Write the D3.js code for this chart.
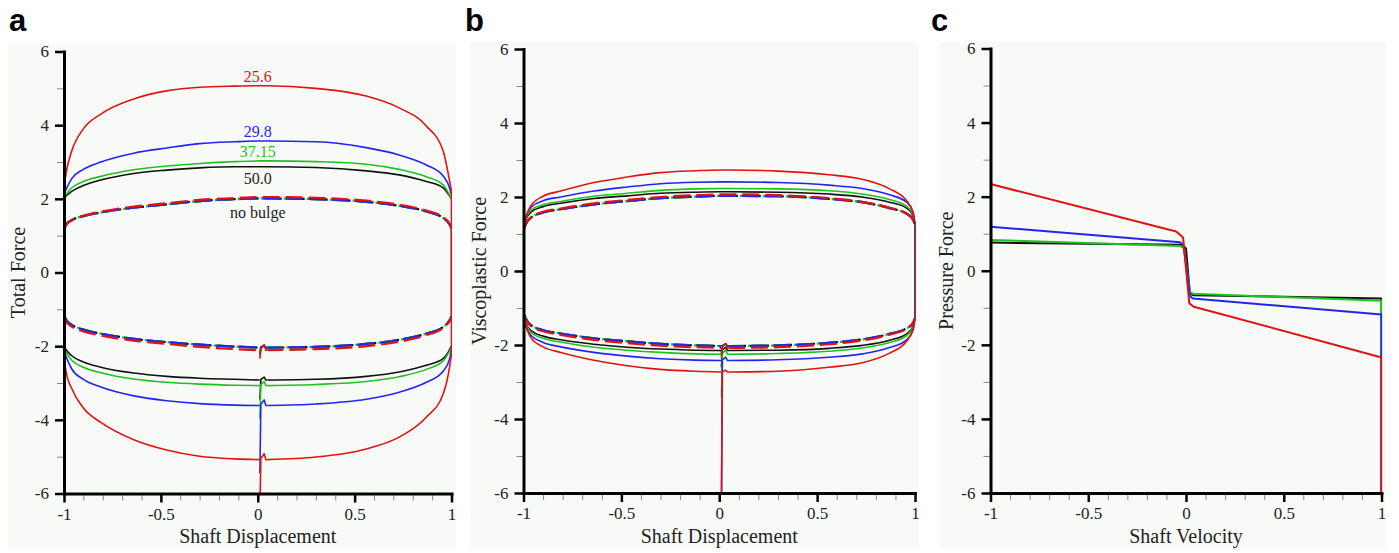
<!DOCTYPE html>
<html>
<head>
<meta charset="utf-8">
<script src="https://cdn.jsdelivr.net/npm/d3@7/dist/d3.min.js"></script>
<style>
  html, body { margin: 0; padding: 0; background: #ffffff; }
  svg { display: block; }
  .tick-label { font-family: "Liberation Serif", "DejaVu Serif", serif; font-size: 17px; fill: #222; }
  .axis-title { font-family: "Liberation Serif", "DejaVu Serif", serif; font-size: 20px; fill: #222; }
  .curve-label { font-family: "Liberation Serif", "DejaVu Serif", serif; font-size: 16px; }
  .panel-letter { font-family: "Liberation Sans", Arial, sans-serif; font-size: 31px; font-weight: bold; fill: #000; }
</style>
</head>
<body>
<svg id="chart" width="1399" height="553"></svg>
<script>
// ---------- series definitions ----------
const seriesNames = ["50.0", "37.15", "29.8", "25.6"];          // bulge ratio labels
const seriesColors = ["#111111", "#1fc21f", "#2424f0", "#e01212"];

// displacement grid shared by the loops in panels a and b
const xGrid = [-1, -0.99, -0.96, -0.9, -0.81, -0.64, -0.47, -0.3, -0.12, 0.01, 0.05, 0.3, 0.56, 0.73, 0.87, 0.957, 0.99, 1];

// ----- Panel a: total force, solid = with bulge, dashed = no bulge -----
const totalTop = [
  [2.0, 2.07, 2.2, 2.36, 2.51, 2.69, 2.78, 2.84, 2.87, 2.87, 2.87, 2.85, 2.76, 2.65, 2.47, 2.30, 2.08, 2.0],
  [2.03, 2.11, 2.3, 2.47, 2.61, 2.79, 2.89, 2.96, 3.01, 3.03, 3.03, 3.01, 2.94, 2.80, 2.60, 2.38, 2.10, 2.0],
  [2.13, 2.25, 2.55, 2.8, 3.0, 3.24, 3.38, 3.50, 3.55, 3.57, 3.57, 3.55, 3.39, 3.19, 2.92, 2.62, 2.30, 2.1],
  [2.3, 2.68, 3.3, 3.9, 4.3, 4.71, 4.93, 5.03, 5.06, 5.07, 5.07, 5.0, 4.79, 4.47, 3.98, 3.30, 2.49, 2.2]
];
const totalBottom = [
  [-2.0, -2.09, -2.26, -2.43, -2.57, -2.73, -2.82, -2.87, -2.9, -2.92, -2.92, -2.9, -2.82, -2.7, -2.52, -2.34, -2.1, -2.0],
  [-2.05, -2.16, -2.38, -2.57, -2.72, -2.89, -2.98, -3.03, -3.06, -3.07, -3.07, -3.04, -2.96, -2.83, -2.63, -2.4, -2.14, -2.05],
  [-2.1, -2.27, -2.62, -2.9, -3.11, -3.35, -3.48, -3.56, -3.6, -3.61, -3.61, -3.57, -3.44, -3.25, -2.98, -2.68, -2.35, -2.1],
  [-2.3, -2.68, -3.15, -3.68, -4.07, -4.54, -4.82, -4.99, -5.06, -5.08, -5.08, -5.01, -4.79, -4.47, -3.93, -3.30, -2.57, -2.2]
];
const totalStart = [-3.45, -3.97, -5.45, -6.5];   // initial force at the start of the stroke
const totalSpike = [-2.84, -2.96, -3.46, -4.92];  // overshoot right after start

const noBulgeTotalTop = [
  [1.18, 1.30, 1.42, 1.53, 1.63, 1.76, 1.85, 1.94, 1.99, 2.01, 2.01, 1.99, 1.92, 1.81, 1.66, 1.48, 1.31, 1.2],
  [1.18, 1.30, 1.42, 1.53, 1.63, 1.76, 1.85, 1.94, 1.99, 2.01, 2.01, 1.99, 1.92, 1.81, 1.66, 1.48, 1.31, 1.2],
  [1.18, 1.30, 1.42, 1.53, 1.63, 1.76, 1.85, 1.94, 1.99, 2.01, 2.01, 1.99, 1.92, 1.81, 1.66, 1.48, 1.31, 1.2],
  [1.15, 1.28, 1.42, 1.54, 1.65, 1.79, 1.88, 1.97, 2.02, 2.05, 2.05, 2.03, 1.95, 1.84, 1.68, 1.50, 1.32, 1.2]
];
const noBulgeTotalBottom = [
  [-1.15, -1.28, -1.42, -1.55, -1.66, -1.8, -1.89, -1.96, -2.01, -2.04, -2.04, -2.02, -1.94, -1.83, -1.66, -1.48, -1.3, -1.2],
  [-1.15, -1.28, -1.42, -1.55, -1.66, -1.8, -1.89, -1.96, -2.01, -2.04, -2.04, -2.02, -1.94, -1.83, -1.66, -1.48, -1.3, -1.2],
  [-1.15, -1.28, -1.42, -1.55, -1.66, -1.8, -1.89, -1.96, -2.01, -2.04, -2.04, -2.02, -1.94, -1.83, -1.66, -1.48, -1.3, -1.2],
  [-1.18, -1.32, -1.47, -1.6, -1.71, -1.85, -1.94, -2.02, -2.08, -2.11, -2.11, -2.08, -2.0, -1.88, -1.7, -1.5, -1.32, -1.22]
];
const noBulgeTotalStart = [-2.2, -2.2, -2.25, -2.34];
const noBulgeTotalSpike = [-1.98, -1.98, -1.98, -1.96];

// ----- Panel b: viscoplastic force -----
const viscoTop = [
  [1.25, 1.38, 1.6, 1.74, 1.83, 1.96, 2.03, 2.1, 2.13, 2.14, 2.14, 2.13, 2.08, 2.0, 1.86, 1.7, 1.5, 1.25],
  [1.25, 1.4, 1.65, 1.79, 1.88, 2.02, 2.1, 2.18, 2.22, 2.23, 2.23, 2.22, 2.17, 2.08, 1.93, 1.75, 1.52, 1.25],
  [1.3, 1.45, 1.73, 1.9, 2.0, 2.16, 2.27, 2.36, 2.40, 2.41, 2.41, 2.39, 2.32, 2.23, 2.06, 1.86, 1.6, 1.3],
  [1.1, 1.38, 1.78, 2.02, 2.16, 2.39, 2.54, 2.66, 2.71, 2.73, 2.73, 2.7, 2.6, 2.48, 2.22, 1.9, 1.56, 1.3]
];
const viscoBottom = [
  [-1.25, -1.4, -1.62, -1.76, -1.86, -1.98, -2.06, -2.11, -2.14, -2.15, -2.15, -2.14, -2.09, -2.01, -1.87, -1.7, -1.5, -1.28],
  [-1.28, -1.43, -1.67, -1.82, -1.92, -2.06, -2.14, -2.2, -2.24, -2.25, -2.25, -2.23, -2.17, -2.08, -1.93, -1.75, -1.52, -1.3],
  [-1.3, -1.48, -1.75, -1.93, -2.05, -2.2, -2.3, -2.37, -2.41, -2.42, -2.42, -2.4, -2.33, -2.24, -2.07, -1.86, -1.6, -1.32],
  [-1.2, -1.43, -1.82, -2.05, -2.2, -2.41, -2.56, -2.66, -2.71, -2.73, -2.73, -2.71, -2.6, -2.48, -2.22, -1.9, -1.56, -1.3]
];
const viscoStart = [-2.6, -3.4, -6.5, -6.5];
const viscoSpike = [-2.06, -2.14, -2.33, -2.68];

const noBulgeViscoTop = [
  [1.1, 1.25, 1.45, 1.58, 1.67, 1.8, 1.89, 1.97, 2.01, 2.03, 2.03, 2.02, 1.95, 1.86, 1.7, 1.55, 1.4, 1.25],
  [1.1, 1.25, 1.45, 1.58, 1.67, 1.8, 1.89, 1.97, 2.01, 2.03, 2.03, 2.02, 1.95, 1.86, 1.7, 1.55, 1.4, 1.25],
  [1.1, 1.25, 1.45, 1.58, 1.67, 1.8, 1.89, 1.97, 2.01, 2.03, 2.03, 2.02, 1.95, 1.86, 1.7, 1.55, 1.4, 1.25],
  [1.1, 1.25, 1.45, 1.6, 1.69, 1.83, 1.92, 2.0, 2.05, 2.07, 2.07, 2.05, 1.97, 1.87, 1.71, 1.55, 1.38, 1.22]
];
const noBulgeViscoBottom = [
  [-1.12, -1.27, -1.47, -1.6, -1.69, -1.82, -1.9, -1.97, -2.01, -2.03, -2.03, -2.01, -1.94, -1.85, -1.7, -1.55, -1.4, -1.28],
  [-1.12, -1.27, -1.47, -1.6, -1.69, -1.82, -1.9, -1.97, -2.01, -2.03, -2.03, -2.01, -1.94, -1.85, -1.7, -1.55, -1.4, -1.28],
  [-1.12, -1.27, -1.47, -1.6, -1.69, -1.82, -1.9, -1.97, -2.01, -2.03, -2.03, -2.01, -1.94, -1.85, -1.7, -1.55, -1.4, -1.28],
  [-1.15, -1.3, -1.5, -1.63, -1.73, -1.86, -1.95, -2.02, -2.06, -2.08, -2.08, -2.06, -1.98, -1.88, -1.72, -1.56, -1.4, -1.28]
];
const noBulgeViscoStart = [-2.2, -2.2, -2.25, -2.34];
const noBulgeViscoSpike = [-1.97, -1.97, -1.97, -1.96];

// ----- Panel c: pressure force against shaft velocity -----
const pressureVelocity = [
  [-1, -0.02, 0.0, 0.02, 0.04, 1, 1],
  [-1, -0.03, -0.01, 0.02, 0.035, 1, 1],
  [-1, -0.03, -0.012, 0.02, 0.035, 1, 1],
  [-1, -0.05, -0.015, 0.017, 0.04, 1, 1]
];
const pressureForce = [
  [0.76, 0.70, 0.6, -0.62, -0.66, -0.75, -6.5],
  [0.83, 0.67, 0.6, -0.58, -0.62, -0.81, -6.5],
  [1.19, 0.77, 0.68, -0.68, -0.75, -1.18, -6.5],
  [2.34, 1.06, 0.9, -0.88, -0.97, -2.34, -6.5]
];

// axis ticks
const yMajorTicks = [-6, -4, -2, 0, 2, 4, 6];
const yMinorTicks = [-5, -3, -1, 1, 3, 5];
const xMajorTicks = [-1, -0.5, 0, 0.5, 1];
const xMinorTicks = [-0.9, -0.8, -0.7, -0.6, -0.4, -0.3, -0.2, -0.1, 0.1, 0.2, 0.3, 0.4, 0.6, 0.7, 0.8, 0.9];

// ---------- drawing ----------
const svg = d3.select("#chart");

const panels = [
  { letter: "a", lx: 9,   box: [8, 44, 456, 548],   x0: 64,    x1: 451.5, yTop: 51.5, yBot: 493.5, ytitle: "Total Force",        ytx: 19,  xtitle: "Shaft Displacement" },
  { letter: "b", lx: 465, box: [470, 42, 918, 548], x0: 523.5, x1: 915,   yTop: 49,   yBot: 493,   ytitle: "Viscoplastic Force", ytx: 480, xtitle: "Shaft Displacement" },
  { letter: "c", lx: 931, box: [940, 42, 1386, 548], x0: 990.5, x1: 1381.5, yTop: 48.5, yBot: 493, ytitle: "Pressure Force",    ytx: 947, xtitle: "Shaft Velocity" }
];

panels.forEach(p => {
  p.x = d3.scaleLinear().domain([-1, 1]).range([p.x0, p.x1]);
  p.y = d3.scaleLinear().domain([-6, 6]).range([p.yBot, p.yTop]);
  const g = svg.append("g");
  p.g = g;

  g.append("rect")
    .attr("x", p.box[0]).attr("y", p.box[1])
    .attr("width", p.box[2] - p.box[0]).attr("height", p.box[3] - p.box[1])
    .attr("fill", "#f8faf8");

  g.append("text").attr("class", "panel-letter")
    .attr("x", p.lx).attr("y", 31).text(p.letter);

  const clipId = "clip-" + p.letter;
  svg.append("clipPath").attr("id", clipId)
    .append("rect")
    .attr("x", p.x0).attr("y", p.yTop)
    .attr("width", p.x1 - p.x0 + 0.6).attr("height", p.yBot - p.yTop);
  p.plot = g.append("g").attr("clip-path", `url(#${clipId})`);
});

const smooth = d3.line().x(d => d[0]).y(d => d[1]).curve(d3.curveMonotoneX);
const straight = d3.line().x(d => d[0]).y(d => d[1]);

// one hysteresis loop: upper branch, lower branch, turning-point jumps, start transient
function drawLoop(p, top, bottom, start, spike, color, dashed, width, phase) {
  const X = p.x, Y = p.y;
  const iSplit = xGrid.indexOf(0.01);
  const topPts = xGrid.map((xv, k) => [X(xv), Y(top[k])]);
  const botLeft = xGrid.slice(0, iSplit + 1).map((xv, k) => [X(xv), Y(bottom[k])]);
  const botRight = xGrid.slice(iSplit + 1).map((xv, k) => [X(xv), Y(bottom[iSplit + 1 + k])]);
  const lvl = bottom[iSplit];
  const transient = [
    [X(0.011), Y(start)],
    [X(0.016), Y(lvl + (spike - lvl) * 0.2)],
    [X(0.033), Y(spike)],
    [X(0.042), Y(lvl)],
    [X(0.05), Y(bottom[iSplit + 1])]
  ];
  const jumps = [
    [[X(1), Y(bottom[bottom.length - 1])], [X(1), Y(top[top.length - 1])]],
    [[X(-1), Y(top[0])], [X(-1), Y(bottom[0])]]
  ];
  const style = sel => sel.attr("fill", "none").attr("stroke", color)
    .attr("stroke-width", width)
    .attr("stroke-dasharray", dashed ? dashed : null)
    .attr("stroke-dashoffset", dashed ? phase : null)
    .attr("stroke-linejoin", "round");
  p.plot.append("path").attr("d", smooth(topPts)).call(style);
  p.plot.append("path").attr("d", smooth(botLeft)).call(style);
  p.plot.append("path").attr("d", smooth(botRight)).call(style);
  p.plot.append("path").attr("d", straight(transient)).call(style)
    .attr("stroke-dasharray", null).attr("stroke-width", 1.6);
  jumps.forEach(j => p.plot.append("path").attr("d", straight(j)).call(style)
    .attr("stroke-dasharray", null).attr("stroke-width", 1.2));
}

// panel a and b loops: solid bulged cases first, then the dashed no-bulge cases
const dashPhase = [0, 4, 2, 1];
[[panels[0], noBulgeTotalTop, noBulgeTotalBottom, noBulgeTotalStart, noBulgeTotalSpike, totalTop, totalBottom, totalStart, totalSpike],
 [panels[1], noBulgeViscoTop, noBulgeViscoBottom, noBulgeViscoStart, noBulgeViscoSpike, viscoTop, viscoBottom, viscoStart, viscoSpike]]
.forEach(([p, nT, nB, nS, nP, sT, sB, sS, sP]) => {
  seriesNames.forEach((name, k) => {
    drawLoop(p, sT[k], sB[k], sS[k], sP[k], seriesColors[k], null, 1.6, 0);
  });
  seriesNames.forEach((name, k) => {
    drawLoop(p, nT[k], nB[k], nS[k], nP[k], seriesColors[k], "17,6", 2.2, dashPhase[k]);
  });
});

// panel c pressure curves
const pc = panels[2];
seriesNames.forEach((name, k) => {
  const pts = pressureVelocity[k].map((v, j) => [pc.x(v), pc.y(pressureForce[k][j])]);
  pc.plot.append("path").attr("d", straight(pts))
    .attr("fill", "none").attr("stroke", seriesColors[k])
    .attr("stroke-width", 2).attr("stroke-linejoin", "round");
});

// curve labels in panel a (placed at the crest of each upper branch)
const pa = panels[0];
const iMid = xGrid.indexOf(0.01);
seriesNames.forEach((name, k) => {
  pa.g.append("text").attr("class", "curve-label")
    .attr("x", pa.x(0)).attr("y", pa.y(totalTop[k][iMid]) + (k === 0 ? 17 : -4))
    .attr("text-anchor", "middle").attr("fill", k === 0 ? "#222" : seriesColors[k])
    .text(name);
});
pa.g.append("text").attr("class", "curve-label")
  .attr("x", pa.x(0)).attr("y", pa.y(noBulgeTotalTop[0][iMid]) + 20)
  .attr("text-anchor", "middle").attr("fill", "#222").text("no bulge");

// axes
const fmt = d => (d === 0 ? "0" : String(d));
panels.forEach(p => {
  const g = p.g;
  // minor ticks
  const yMinor = g.append("g").attr("transform", `translate(${p.x0},0)`)
    .call(d3.axisLeft(p.y).tickValues(yMinorTicks).tickSize(7).tickFormat(""));
  yMinor.select(".domain").remove();
  yMinor.selectAll("line").attr("stroke", "#888").attr("stroke-width", 1);
  const xMinor = g.append("g").attr("transform", `translate(0,${p.yBot})`)
    .call(d3.axisBottom(p.x).tickValues(xMinorTicks).tickSize(7).tickFormat(""));
  xMinor.select(".domain").remove();
  xMinor.selectAll("line").attr("stroke", "#888").attr("stroke-width", 1);

  // major ticks and domain lines
  const yAxis = g.append("g").attr("transform", `translate(${p.x0},0)`)
    .call(d3.axisLeft(p.y).tickValues(yMajorTicks).tickSize(9).tickSizeOuter(0).tickPadding(6).tickFormat(fmt));
  const xAxis = g.append("g").attr("transform", `translate(0,${p.yBot})`)
    .call(d3.axisBottom(p.x).tickValues(xMajorTicks).tickSize(9).tickSizeOuter(0).tickPadding(5).tickFormat(fmt));
  [yAxis, xAxis].forEach(a => {
    a.attr("font-size", null).attr("font-family", null);
    a.select(".domain").attr("stroke", "#000").attr("stroke-width", 3).attr("stroke-linecap", "square");
    a.selectAll(".tick line").attr("stroke", "#000").attr("stroke-width", 2.5);
    a.selectAll(".tick text").attr("class", "tick-label");
  });

  g.append("text").attr("class", "axis-title")
    .attr("x", (p.x0 + p.x1) / 2).attr("y", 543)
    .attr("text-anchor", "middle").text(p.xtitle);
  g.append("text").attr("class", "axis-title")
    .attr("transform", `translate(${p.ytx + 6},${(p.yTop + p.yBot) / 2}) rotate(-90)`)
    .attr("text-anchor", "middle").text(p.ytitle);
});
</script>
</body>
</html>
